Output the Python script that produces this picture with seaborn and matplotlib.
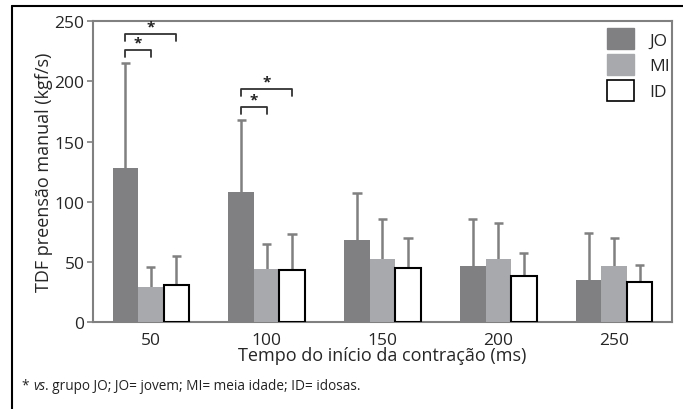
import matplotlib
matplotlib.use("Agg")
import matplotlib.pyplot as plt
import seaborn as sns
import pandas as pd
import numpy as np
from matplotlib.patches import Patch
from matplotlib.lines import Line2D

# ---- data ----
times = ["50", "100", "150", "200", "250"]
groups = ["JO", "MI", "ID"]
jo_mean = [128, 108, 68, 46.5, 35]
jo_sd = [87, 60, 39, 39, 39]
mi_mean = [29, 44, 52, 52, 47]
mi_sd = [16.5, 21, 33.5, 30, 23]
id_mean = [30.5, 43, 45, 38, 33.5]
id_sd = [24.5, 30, 24.5, 19, 14]
yticks = [0, 50, 100, 150, 200, 250]

colors = {"JO": "#808083", "MI": "#a8a9ac", "ID": "#ffffff"}

sns.set_theme(style="white")
plt.rcParams["font.family"] = ["Open Sans", "DejaVu Sans"]

means = {"JO": jo_mean, "MI": mi_mean, "ID": id_mean}
sds = {"JO": jo_sd, "MI": mi_sd, "ID": id_sd}
rows = []
for g in groups:
    for t, m in zip(times, means[g]):
        rows.append({"tempo": t, "grupo": g, "valor": m})
df = pd.DataFrame(rows)

fig = plt.figure(figsize=(6.83, 4.10), dpi=100)
ax = fig.add_axes([0.136, 0.212, 0.848, 0.734])

sns.barplot(data=df, x="tempo", y="valor", hue="grupo", order=times,
            hue_order=groups, palette=colors, saturation=1, width=0.66,
            errorbar=None, linewidth=0, legend=False, ax=ax, zorder=3)

ecol = "#808080"
centers = {}
for g, cont in zip(groups, ax.containers):
    xs = [b.get_x() + b.get_width() / 2 for b in cont]
    centers[g] = xs
    for b in cont:
        if g == "ID":
            b.set_edgecolor("black")
            b.set_linewidth(1.5)
    tops = np.array(means[g]) + np.array(sds[g])
    ax.vlines(xs, means[g], tops, color=ecol, lw=1.8, zorder=2)
    ax.hlines(tops, np.array(xs) - 0.04, np.array(xs) + 0.04, color=ecol, lw=1.8, zorder=2)

# significance brackets (group index, target group, bracket height)
brackets = [(0, "MI", 226), (0, "ID", 239), (1, "MI", 178.5), (1, "ID", 193.5)]
for i, g, h in brackets:
    x1 = centers["JO"][i]
    x2 = centers[g][i]
    ax.plot([x1, x1, x2, x2], [h - 5.5, h, h, h - 5.5], color="#333333", lw=1.3, zorder=4)
    ax.text((x1 + x2) / 2, h + 0.5, "*", ha="center", va="bottom", fontsize=11,
            fontweight="bold", color="#222222")

ax.set_xlim(-0.5, 4.5)
ax.set_ylim(0, 250)
ax.set_yticks(yticks)
ax.tick_params(axis="y", left=True, length=4, width=1.2, color=ecol, labelsize=12.5, pad=2)
ax.tick_params(axis="x", bottom=False, labelsize=12.5, pad=1)
for s in ax.spines.values():
    s.set_color(ecol)
    s.set_linewidth(1.5)
ax.set_xlabel("Tempo do início da contração (ms)", fontsize=13, labelpad=-1)
ax.set_ylabel("TDF preensão manual (kgf/s)", fontsize=13, labelpad=1)

handles = [Patch(facecolor=colors["JO"], edgecolor=colors["JO"], label="JO"),
           Patch(facecolor=colors["MI"], edgecolor=colors["MI"], label="MI"),
           Patch(facecolor=colors["ID"], edgecolor="black", linewidth=1.2, label="ID")]
leg = ax.legend(handles=handles, loc="upper right", frameon=False, fontsize=12.5,
                handlelength=1.5, handleheight=1.5, labelspacing=0.28,
                handletextpad=0.9, borderaxespad=0.0, bbox_to_anchor=(1.008, 1.0))

# footer
t1 = fig.text(0.032, 0.048, "* ", fontsize=9.8, color="#222222", va="baseline")
t2 = ax.annotate("vs", xy=(1, 0), xycoords=t1, fontsize=9.8, style="italic",
                 color="#222222", va="bottom", ha="left", annotation_clip=False)
t3 = ax.annotate(". grupo JO; JO= jovem; MI= meia idade; ID= idosas.", xy=(1, 0),
                 xycoords=t2, fontsize=9.8, color="#222222", va="bottom", ha="left",
                 annotation_clip=False)

# outer partial frame
fig.add_artist(Line2D([12 / 683, 1], [1 - 7 / 410, 1 - 7 / 410], color="black", lw=1.5,
                      transform=fig.transFigure))
fig.add_artist(Line2D([12 / 683, 12 / 683], [0, 1 - 7 / 410], color="black", lw=1.5,
                      transform=fig.transFigure))

fig.savefig("out.png", dpi=100)
